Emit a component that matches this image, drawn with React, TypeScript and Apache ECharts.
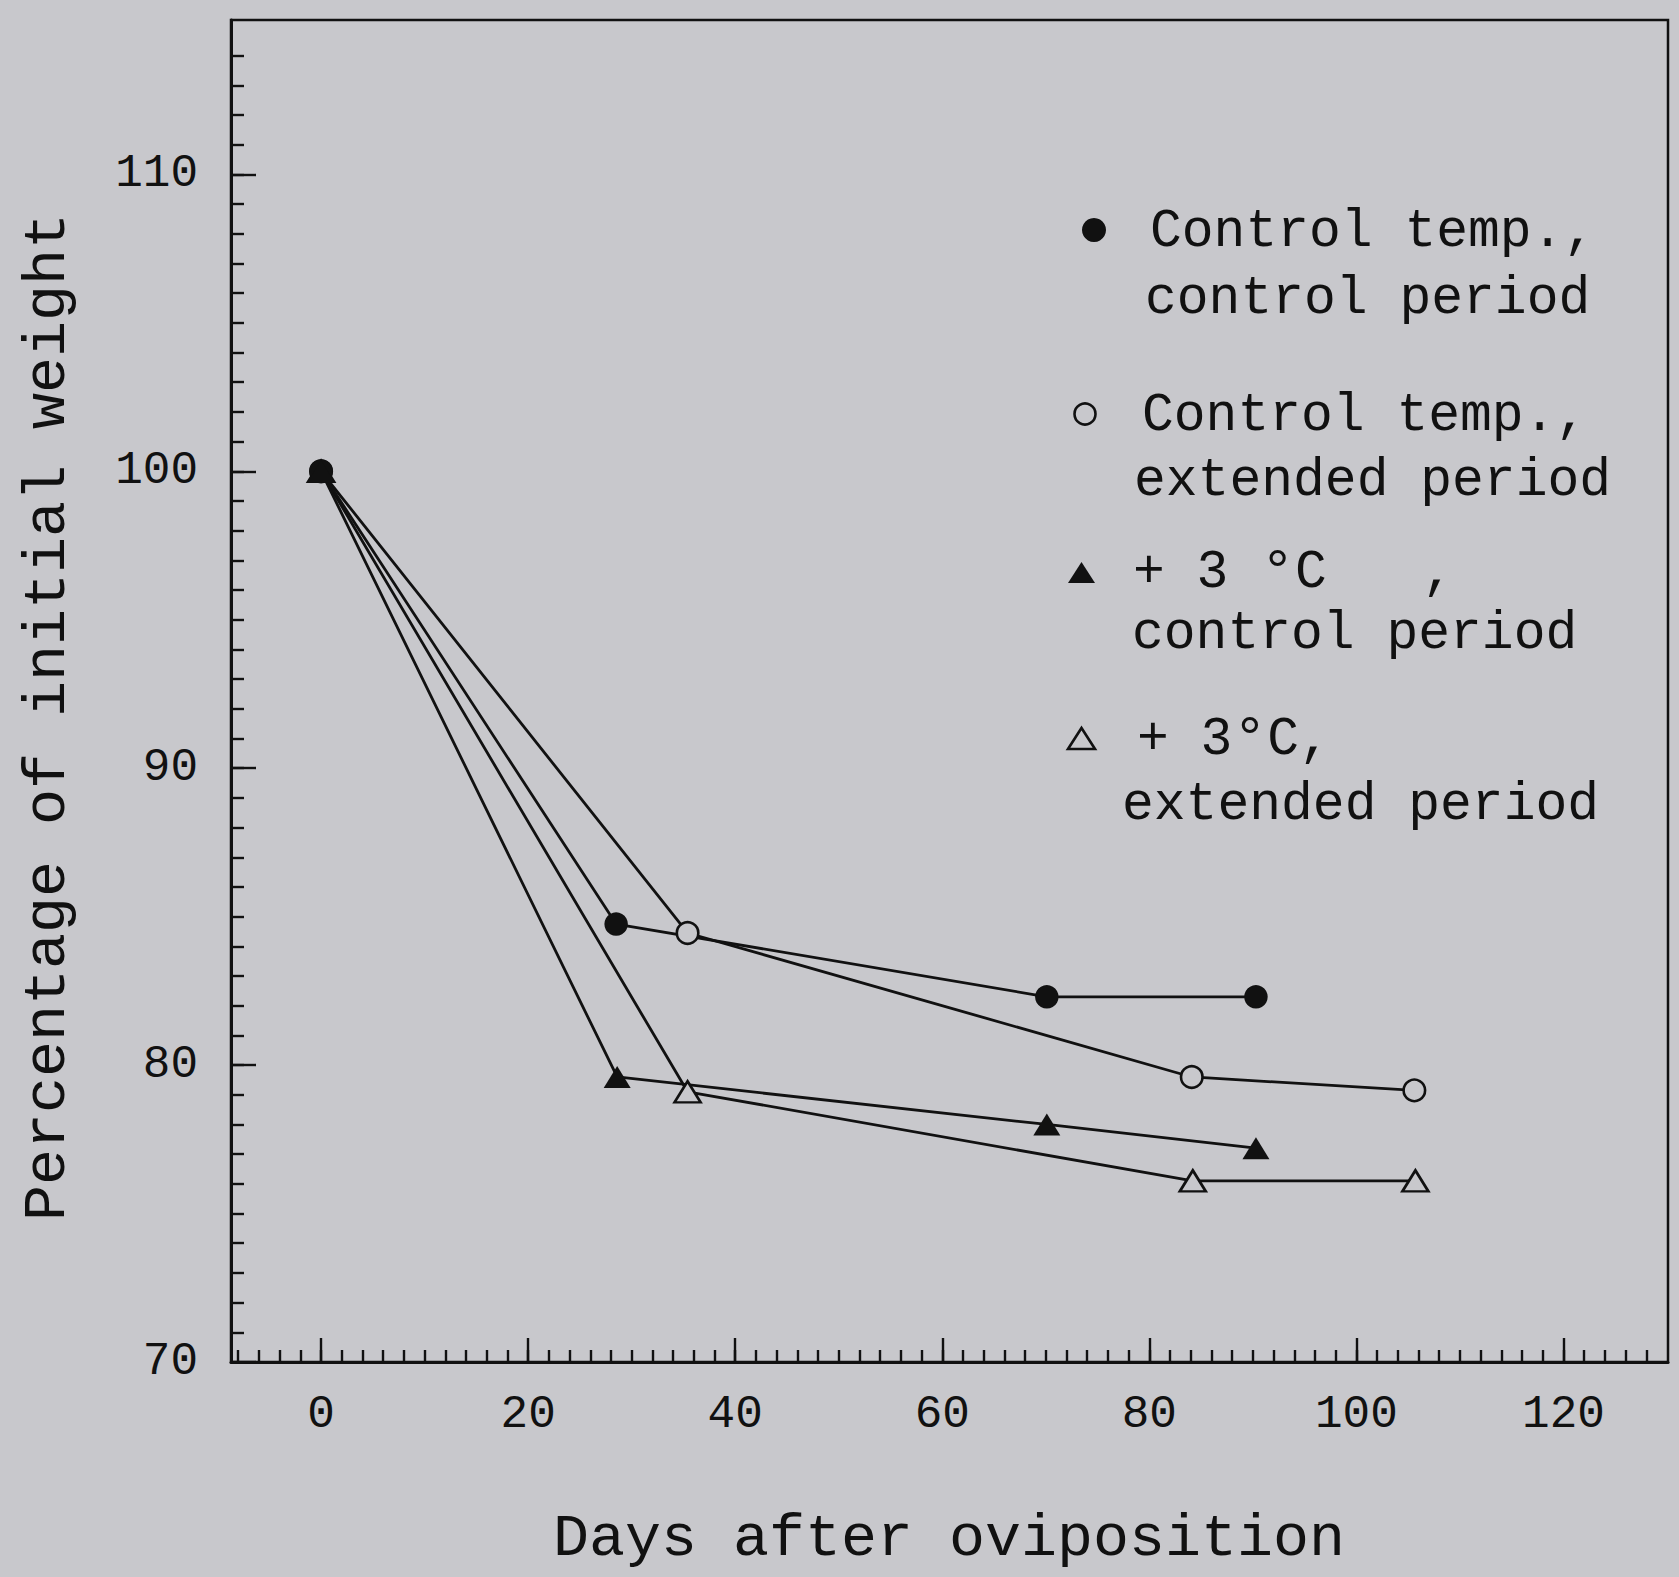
import React, { useEffect, useRef } from "react";
import * as echarts from "echarts";

// ---- Data ----
const ctrlTempCtrlPeriodX = [0, 28.5, 70.1, 90.3];
const ctrlTempCtrlPeriodY = [100, 84.75, 82.3, 82.3];
const ctrlTempExtPeriodX = [0, 35.4, 84.1, 105.6];
const ctrlTempExtPeriodY = [100, 84.45, 79.6, 79.15];
const warmCtrlPeriodX = [0, 28.6, 70.1, 90.3];
const warmCtrlPeriodY = [100, 79.6, 78.0, 77.2];
const warmExtPeriodX = [0, 35.4, 84.2, 105.7];
const warmExtPeriodY = [100, 79.1, 76.1, 76.1];

const xMajorTicks = [0, 20, 40, 60, 80, 100, 120];
const yMajorTicks = [70, 80, 90, 100, 110];
const xAxisTitle = "Days after oviposition";
const yAxisTitle = "Percentage of initial weight";

const legendLine1 = ["Control temp.,", "Control temp.,"];
const legendLine2 = ["control period", "extended period", "control period", "extended period"];

const BG = "#c8c8cc";
const INK = "#111111";
const MONO = "'Liberation Mono', 'DejaVu Sans Mono', monospace";

function pairs(xs: number[], ys: number[]) {
  return xs.map((x, i) => [x, ys[i]]);
}

export default function App() {
  const ref = useRef<HTMLDivElement>(null);
  useEffect(() => {
    document.body.style.margin = "0";
    document.body.style.background = BG;
    const chart = echarts.init(ref.current!, null, { renderer: "svg" });

    const xMinor: number[] = [];
    for (let v = -8; v <= 128; v += 2) xMinor.push(v);
    const yMinor: number[] = [];
    for (let v = 71; v <= 114; v += 1) yMinor.push(v);

    const xMin = -8.7, xMax = 130.1;
    const yMin = 70, yMax = 115.2;
    const tickLine = { color: INK, width: 2.4 };

    const lineBase = {
      type: "line" as const,
      xAxisIndex: 0,
      yAxisIndex: 0,
      lineStyle: { color: INK, width: 2.8 },
      emphasis: { disabled: true },
    };

    const tStyle = (text: string, fs = 53) => ({
      text,
      fontFamily: MONO,
      fontSize: fs,
      lineHeight: fs,
      fill: INK,
      align: "left",
      verticalAlign: "middle",
    });

    const supStyle = (text: string) => ({
      ...tStyle(text),
      rich: {
        a: { fontFamily: MONO, fontSize: 53, lineHeight: 53, fill: INK, color: INK },
        d: { fontFamily: MONO, fontSize: 58, lineHeight: 53, fill: INK, color: INK },
      },
    });

    const tickLabel = {
      show: true,
      fontFamily: MONO,
      fontSize: 46,
      color: INK,
    };

    const option: any = {
      animation: false,
      backgroundColor: BG,
      grid: {
        left: 231,
        right: 11,
        top: 20,
        bottom: 215,
        show: true,
        borderColor: INK,
        borderWidth: 2.5,
        backgroundColor: "transparent",
        containLabel: false,
        outerBoundsMode: "none",
      },
      xAxis: [
        {
          type: "value",
          min: xMin,
          max: xMax,
          position: "bottom",
          axisLine: { show: true, onZero: false, lineStyle: { color: INK, width: 3 } },
          axisTick: { show: true, inside: true, length: 12, customValues: xMinor, lineStyle: tickLine },
          axisLabel: { show: false },
          splitLine: { show: false },
        },
        {
          type: "value",
          min: xMin,
          max: xMax,
          position: "bottom",
          axisLine: { show: false, onZero: false },
          axisTick: { show: true, inside: true, length: 24, customValues: xMajorTicks, lineStyle: tickLine },
          axisLabel: { ...tickLabel, customValues: xMajorTicks, margin: 30 },
          splitLine: { show: false },
        },
      ],
      yAxis: [
        {
          type: "value",
          min: yMin,
          max: yMax,
          position: "left",
          axisLine: { show: true, onZero: false, lineStyle: { color: INK, width: 3 } },
          axisTick: { show: true, inside: true, length: 13, customValues: yMinor, lineStyle: tickLine },
          axisLabel: { show: false },
          splitLine: { show: false },
        },
        {
          type: "value",
          min: yMin,
          max: yMax,
          position: "left",
          axisLine: { show: false, onZero: false },
          axisTick: { show: true, inside: true, length: 25, customValues: yMajorTicks, lineStyle: tickLine },
          axisLabel: { ...tickLabel, customValues: yMajorTicks, margin: 33 },
          splitLine: { show: false },
        },
      ],
      series: [
        {
          ...lineBase,
          name: "Control temp., extended period",
          data: pairs(ctrlTempExtPeriodX, ctrlTempExtPeriodY),
          symbol: "circle",
          symbolSize: 21.5,
          itemStyle: { color: BG, borderColor: INK, borderWidth: 2.6 },
        },
        {
          ...lineBase,
          name: "+3 °C, extended period",
          data: pairs(warmExtPeriodX, warmExtPeriodY),
          symbol: "triangle",
          symbolSize: [26, 21],
          itemStyle: { color: BG, borderColor: INK, borderWidth: 2.6 },
        },
        {
          ...lineBase,
          name: "Control temp., control period",
          data: pairs(ctrlTempCtrlPeriodX, ctrlTempCtrlPeriodY),
          symbol: "circle",
          symbolSize: 23.5,
          itemStyle: { color: INK },
        },
        {
          ...lineBase,
          name: "+3 °C, control period",
          data: pairs(warmCtrlPeriodX, warmCtrlPeriodY),
          symbol: "triangle",
          symbolSize: [27, 22],
          itemStyle: { color: INK },
        },
      ],
      graphic: [
        // axis titles
        {
          type: "text",
          x: 949,
          y: 1539,
          style: { ...tStyle(xAxisTitle, 60), align: "center" },
        },
        {
          type: "text",
          x: 48,
          y: 717,
          rotation: Math.PI / 2,
          style: { ...tStyle(yAxisTitle, 60), align: "center" },
        },
        // legend entry 1
        { type: "circle", shape: { cx: 1094, cy: 230, r: 12 }, style: { fill: INK } },
        { type: "text", x: 1150, y: 232, style: tStyle(legendLine1[0]) },
        { type: "text", x: 1145, y: 299, style: tStyle(legendLine2[0]) },
        // legend entry 2
        {
          type: "circle",
          shape: { cx: 1085, cy: 414, r: 10.5 },
          style: { fill: BG, stroke: INK, lineWidth: 2.6 },
        },
        { type: "text", x: 1142, y: 416, style: tStyle(legendLine1[1]) },
        { type: "text", x: 1134, y: 481, style: tStyle(legendLine2[1]) },
        // legend entry 3
        {
          type: "polygon",
          shape: { points: [[1068, 583], [1095, 583], [1081.5, 562]] },
          style: { fill: INK },
        },
        { type: "text", x: 1133, y: 573, style: supStyle("{a|+ 3 }{d|°}{a|C   ,}") },
        { type: "text", x: 1132, y: 634, style: tStyle(legendLine2[2]) },
        // legend entry 4
        {
          type: "polygon",
          shape: { points: [[1068, 749], [1095, 749], [1081.5, 728]] },
          style: { fill: BG, stroke: INK, lineWidth: 2.6 },
        },
        { type: "text", x: 1137, y: 740, style: supStyle("{a|+ 3}{d|°}{a|C,}") },
        { type: "text", x: 1122, y: 805, style: tStyle(legendLine2[3]) },
      ],
    };

    chart.setOption(option);
    return () => chart.dispose();
  }, []);

  return (
    <div
      ref={ref}
      style={{ position: "absolute", left: 0, top: 0, width: 1679, height: 1577, background: BG }}
    />
  );
}
